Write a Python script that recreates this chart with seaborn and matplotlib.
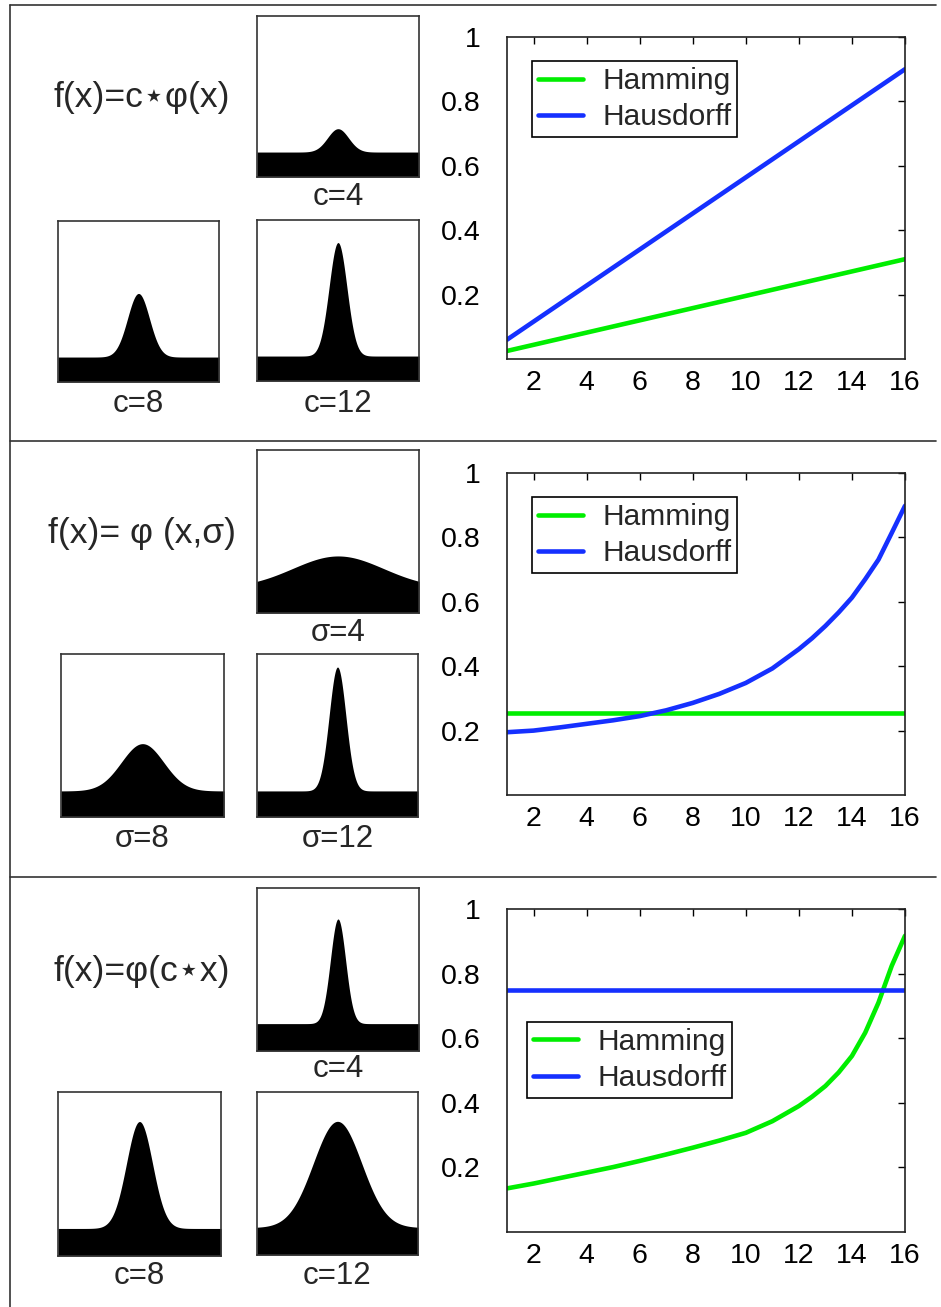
import matplotlib
matplotlib.use("Agg")
import matplotlib.pyplot as plt
from matplotlib.lines import Line2D
import seaborn as sns
import numpy as np
import pandas as pd

# ---- data ----
x_lin = [1, 2, 3, 4, 5, 6, 7, 8, 9, 10, 11, 12, 13, 14, 15, 16]
x_curve = [1, 2, 3, 4, 5, 6, 7, 8, 9, 10, 11, 12, 12.5, 13, 13.5, 14,
           14.5, 15, 15.5, 16]

# row 1: f(x)=c*phi(x)
ham_1 = [0.025, 0.044, 0.063, 0.082, 0.101, 0.120, 0.139, 0.158,
         0.177, 0.196, 0.215, 0.234, 0.253, 0.272, 0.291, 0.310]
hau_1 = [0.060, 0.116, 0.172, 0.228, 0.284, 0.340, 0.396, 0.452,
         0.508, 0.564, 0.620, 0.676, 0.732, 0.788, 0.844, 0.900]

# row 2: f(x)=phi(x, sigma)
ham_2 = [0.256] * 20
hau_2 = [0.195, 0.200, 0.210, 0.221, 0.232, 0.245, 0.263, 0.286, 0.314,
         0.348, 0.393, 0.453, 0.487, 0.525, 0.567, 0.613, 0.670, 0.731,
         0.814, 0.898]

# row 3: f(x)=phi(c*x)
ham_3 = [0.135, 0.150, 0.167, 0.184, 0.201, 0.220, 0.240, 0.261, 0.283,
         0.307, 0.343, 0.390, 0.419, 0.452, 0.494, 0.545, 0.617, 0.710,
         0.824, 0.917]
hau_3 = [0.750] * 20

formulas = ["f(x)=c⋆φ(x)", "f(x)= φ (x,σ)", "f(x)=φ(c⋆x)"]
panel_labels = [["c=4", "c=8", "c=12"],
                ["σ=4", "σ=8", "σ=12"],
                ["c=4", "c=8", "c=12"]]
# small thumbnails: base level, peak height, spread (fraction of panel)
thumb_base = [[0.155, 0.155, 0.155], [0.155, 0.16, 0.16], [0.168, 0.168, 0.168]]
thumb_peak = [[0.30, 0.55, 0.86], [0.35, 0.45, 0.92], [0.81, 0.82, 0.82]]
thumb_width = [[0.065, 0.068, 0.055], [0.28, 0.13, 0.052], [0.047, 0.08, 0.15]]

sns.set_style("white")
plt.rcParams['font.family'] = ['Liberation Sans', 'DejaVu Sans']

W, H = 941, 1307
fig = plt.figure(figsize=(W / 100, H / 100), dpi=100)


def box(x0, y0, x1, y1):
    # pixel box (top-left origin) -> figure fraction rect
    return [x0 / W, 1 - y1 / H, (x1 - x0) / W, (y1 - y0) / H]


main_boxes = [(507, 37, 905, 359), (507, 473, 905, 795), (507, 909, 905, 1232)]
legend_anchor = [(0.063, 0.925), (0.063, 0.925), (0.05, 0.651)]
thumb_boxes = [
    [(257, 16, 419, 177), (58, 221, 219, 382), (257, 220, 419, 381)],
    [(257, 450, 419, 613), (61, 654, 224, 817), (257, 654, 418, 817)],
    [(257, 888, 419, 1051), (58, 1092, 221, 1256), (257, 1092, 418, 1255)],
]
label_y = [[197, 404, 404], [633, 839, 839], [1069, 1276, 1276]]
formula_pos = [(54, 97), (48, 533), (54, 972)]

rows = [(x_lin, ham_1, hau_1), (x_curve, ham_2, hau_2), (x_curve, ham_3, hau_3)]
palette = {"Hamming": "#00ee00", "Hausdorff": "#1530ff"}

for r, (xs, ham, hau) in enumerate(rows):
    ax = fig.add_axes(box(*main_boxes[r]))
    df = pd.DataFrame({
        "x": list(xs) * 2,
        "y": list(ham) + list(hau),
        "metric": ["Hamming"] * len(xs) + ["Hausdorff"] * len(xs),
    })
    sns.lineplot(data=df, x="x", y="y", hue="metric", palette=palette,
                 linewidth=3.3, ax=ax)
    ax.set_xlim(1, 16)
    ax.set_ylim(0, 1)
    ax.set_xticks([2, 4, 6, 8, 10, 12, 14, 16])
    ax.set_yticks([0.2, 0.4, 0.6, 0.8, 1.0])
    ax.set_yticklabels(["0.2", "0.4", "0.6", "0.8", "1"])
    ax.set_xlabel("")
    ax.set_ylabel("")
    ax.tick_params(direction="in", top=True, right=True, length=5, width=1,
                   labelsize=20.5, colors="black")
    ax.tick_params(axis="y", pad=19)
    ax.tick_params(axis="x", pad=8)
    for s in ax.spines.values():
        s.set_linewidth(1.2)
        s.set_color("#222222")
    leg = ax.legend(loc="upper left", bbox_to_anchor=legend_anchor[r],
                    borderaxespad=0, fontsize=21.5, fancybox=False,
                    framealpha=1, edgecolor="black", handlelength=1.5,
                    handletextpad=0.65, labelspacing=0.28, borderpad=0.2)
    leg.get_frame().set_linewidth(1.2)
    for line in leg.get_lines():
        line.set_linewidth(3.3)

    # thumbnails
    t = np.linspace(0, 1, 400)
    for k in range(3):
        tax = fig.add_axes(box(*thumb_boxes[r][k]))
        base = thumb_base[r][k]
        prof = base + (thumb_peak[r][k] - base) * np.exp(
            -(t - 0.5) ** 2 / (2 * thumb_width[r][k] ** 2))
        tax.fill_between(t, 0, prof, color="black", linewidth=0)
        tax.set_xlim(0, 1)
        tax.set_ylim(0, 1)
        tax.set_xticks([])
        tax.set_yticks([])
        for s in tax.spines.values():
            s.set_linewidth(1.2)
            s.set_color("#333333")
        x0, _, x1, _ = thumb_boxes[r][k]
        fig.text((x0 + x1) / 2 / W, 1 - label_y[r][k] / H, panel_labels[r][k],
                 ha="center", va="center", fontsize=22.5)

    fx, fy = formula_pos[r]
    fig.text(fx / W, 1 - fy / H, formulas[r], ha="left", va="center",
             fontsize=25.5)

# frame and separators
lk = dict(color="#333333", linewidth=1.2, transform=fig.transFigure)
fig.add_artist(Line2D([10 / W, 10 / W], [1 - 5 / H, 0], **lk))
for yy in [5, 441, 877]:
    fig.add_artist(Line2D([10 / W, 936 / W], [1 - yy / H, 1 - yy / H], **lk))

fig.savefig("out.png", dpi=100)
